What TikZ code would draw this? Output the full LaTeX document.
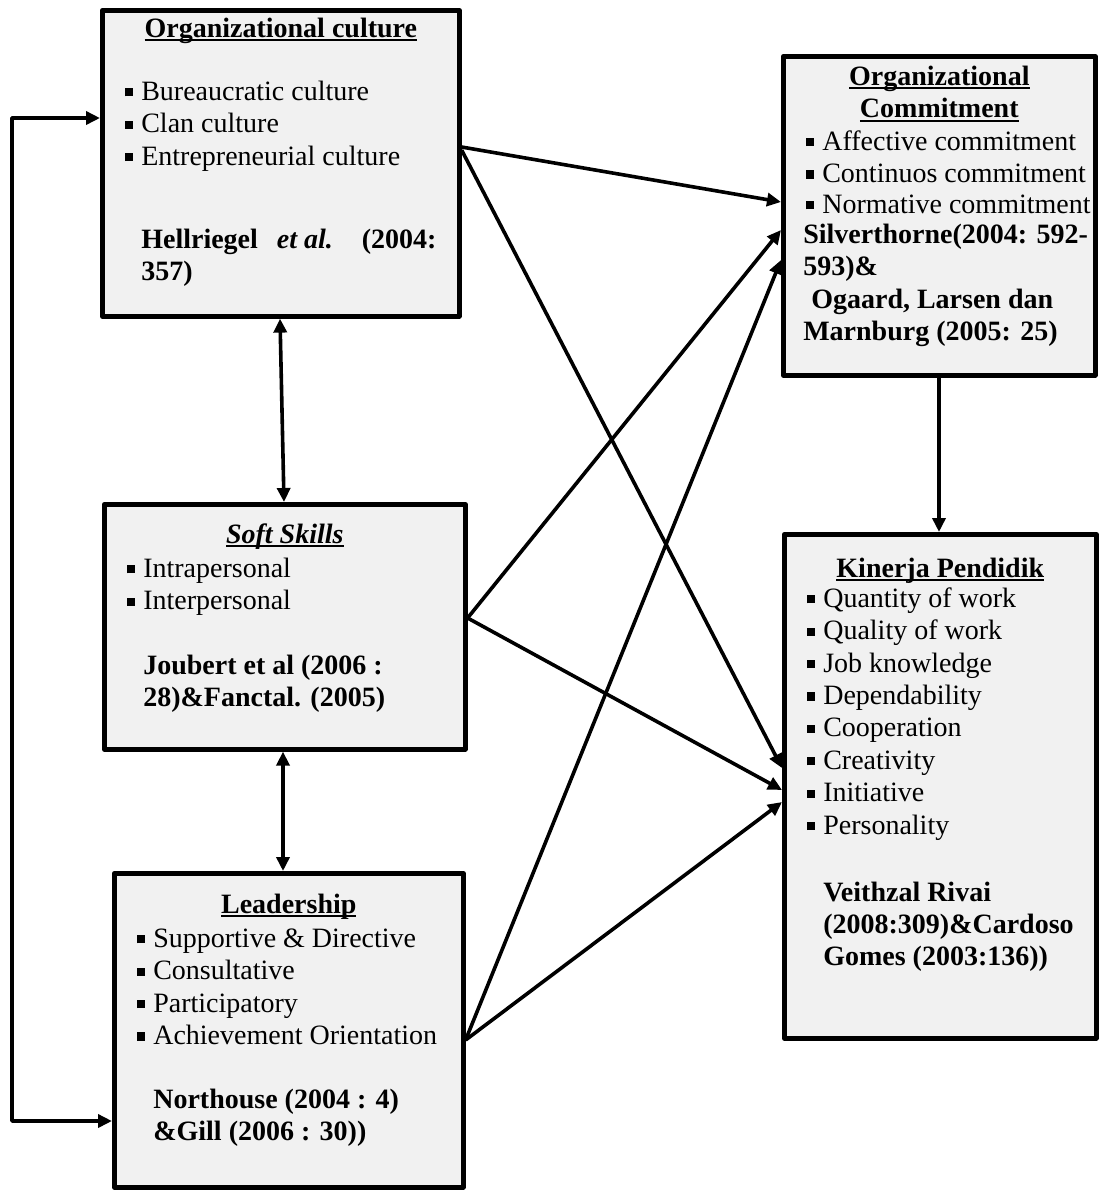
\documentclass[tikz,border=0pt]{standalone}
\usepackage{fontspec}
\setmainfont{Liberation Serif}
\usetikzlibrary{arrows.meta}
\definecolor{panelfill}{HTML}{F1F1F1}
%% bullet, underlined heading, box body
\newcommand{\sq}{\leavevmode\llap{\rule[2pt]{3.9pt}{4.1pt}\hspace{4.3pt}}}
\newcommand{\hd}[1]{\leavevmode\setbox0\hbox{\bfseries #1}\rlap{\rule[-1.9pt]{\wd0}{0.9pt}}\box0}
\newcommand{\panelbody}[4]{\parbox[c][#2][t]{#1}{\fontsize{14}{16.2}\selectfont\vspace*{#3}#4}}
\begin{document}
\begin{tikzpicture}[x=0.5pt,y=-0.5pt, line join=round, >={Triangle[length=7pt,width=6.5pt]},
	panel/.style={draw, line width=2.3pt, fill=panelfill, inner sep=0pt, anchor=north west},
	link/.style={line width=1.8pt}]
	\useasboundingbox (0,0) rectangle (1099,1190);
	%% boxes
	\node[panel] (oc) at (100,8) {\panelbody{178.5pt}{153pt}{2.2pt}{%
		{\centering\strut\hd{Organizational culture}\par}
		\raggedright\leftskip=19.5pt
		\vspace{15.3pt}
		\sq Bureaucratic culture\par
		\sq Clan culture\par
		\sq Entrepreneurial culture\par
		\vspace{25.4pt}
		\textbf{Hellriegel\hspace{9.5pt}\textit{et al.}\hspace{14.5pt}(2004:}\par
		\textbf{357)}\par}};
	\node[panel] (cm) at (781,54) {\panelbody{156pt}{159.5pt}{3.2pt}{%
		{\centering\strut\hd{Organizational}\par\strut\hd{Commitment}\par}
		\raggedright\leftskip=19.5pt
		\sq Affective commitment\par
		\sq Continuos commitment\par
		\vspace{-0.8pt}
		\sq Normative commitment\par
		\leftskip=10pt
		\vspace{-1.2pt}
		\textbf{Silverthorne(2004: 592-}\par
		\textbf{593)\&}\par
		\textbf{\hspace{4pt}Ogaard, Larsen dan}\par
		\textbf{Marnburg (2005: 25)}\par}};
	\node[panel] (ss) at (102,502) {\panelbody{180.5pt}{122.5pt}{8.2pt}{%
		{\centering\strut\hd{\itshape Soft Skills}\par}
		\raggedright\leftskip=19.5pt
		\vspace{0.8pt}
		\sq Intrapersonal\par
		\sq Interpersonal\par
		\vspace{16.1pt}
		\textbf{Joubert et al (2006 :}\par
		\textbf{28)\&Fanctal. (2005)}\par}};
	\node[panel] (lp) at (112,871) {\panelbody{174.5pt}{157pt}{8.7pt}{%
		{\centering\strut\hd{Leadership}\par}
		\raggedright\leftskip=19.5pt
		\vspace{0.8pt}
		\sq Supportive \& Directive\par
		\sq Consultative\par
		\sq Participatory\par
		\sq Achievement Orientation\par
		\vspace{15.7pt}
		\textbf{Northouse (2004 : 4)}\par
		\textbf{\&Gill (2006 : 30))}\par}};
	\node[panel] (kp) at (782,532) {\panelbody{156pt}{252pt}{10.2pt}{%
		{\centering\strut\hd{Kinerja Pendidik}\par}
		\raggedright\leftskip=19.5pt
		\vspace{-1.2pt}
		\sq Quantity of work\par
		\sq Quality of work\par
		\sq Job knowledge\par
		\sq Dependability\par
		\sq Cooperation\par
		\sq Creativity\par
		\sq Initiative\par
		\sq Personality\par
		\vspace{17.3pt}
		\textbf{Veithzal Rivai}\par
		\textbf{(2008:309)\&Cardoso}\par
		\textbf{Gomes (2003:136))}\par}};
	%% links
	\draw[link,<->] ([yshift=-55pt]oc.north west) -- ++(-44pt,0) |- ([yshift=-125pt]lp.north west);
	\draw[link,<->] ([xshift=90pt]oc.south west) -- ([xshift=91pt]ss.north west);
	\draw[link,<->] ([xshift=90.5pt]ss.south west) -- ([xshift=85.5pt]lp.north west);
	\draw[link,->] ([xshift=79pt]cm.south west) -- ([xshift=78.5pt]kp.north west);
	\draw[link,->] ([yshift=-69.5pt]oc.north east) -- ([yshift=-74pt]cm.north west);
	\draw[link,->] ([yshift=-71pt]oc.north east) -- ([yshift=-118pt]kp.north west);
	\draw[link,->] ([yshift=-58pt]ss.north east) -- ([yshift=-88pt]cm.north west);
	\draw[link,->] ([yshift=-58pt]ss.north east) -- ([yshift=-129pt]kp.north west);
	\draw[link,->] ([yshift=-84.5pt]lp.north east) -- ([yshift=-103pt]cm.north west);
	\draw[link,->] ([yshift=-84.5pt]lp.north east) -- ([yshift=-135pt]kp.north west);
\end{tikzpicture}
\end{document}
